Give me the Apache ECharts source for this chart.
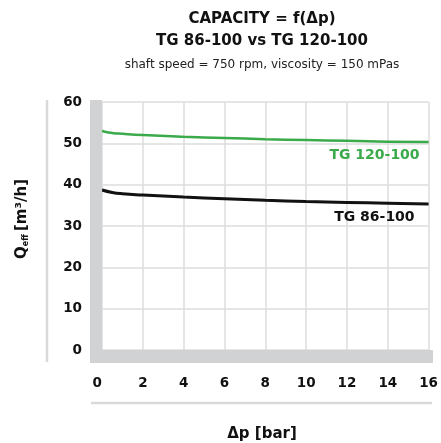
<!DOCTYPE html>
<html>
<head>
<meta charset="utf-8">
<script src="https://cdn.jsdelivr.net/npm/echarts@6/dist/echarts.min.js"></script>
<style>
  html, body { margin: 0; padding: 0; background: #fff; }
  #chart { width: 441px; height: 443px; }
</style>
</head>
<body>
<div id="chart"></div>
<script>
// values
const pressure = [0, 0.5, 1, 2, 4, 6, 8, 10, 12, 14, 16]
const tg120 = [53.0, 52.5, 52.3, 52.0, 51.6, 51.3, 51.0, 50.8, 50.6, 50.4, 50.3]
const tg86 = [38.7, 38.1, 37.8, 37.5, 37.0, 36.6, 36.2, 35.9, 35.7, 35.5, 35.3]
const xTicks = [0, 2, 4, 6, 8, 10, 12, 14, 16]
const yTicks = [0, 10, 20, 30, 40, 50, 60]

const FONT = 'DejaVu Sans'
const GREEN = '#3aaa4a'
const GREY = '#d1d2d4'

const pairs = (ys) => pressure.map((p, i) => [p, ys[i]])

const chart = echarts.init(document.getElementById('chart'), null, { renderer: 'canvas' })

const option = {
  animation: false,
  backgroundColor: '#fff',
  textStyle: { fontFamily: FONT },
  title: [
    {
      text: 'CAPACITY = f(Δp)\nTG 86-100 vs TG 120-100',
      left: 257,
      top: 3,
      textAlign: 'center',
      textStyle: { fontFamily: FONT, fontSize: 15, fontWeight: 'bold', color: '#111', lineHeight: 22 }
    },
    {
      text: 'shaft speed = 750 rpm, viscosity = 150 mPas',
      left: 257,
      top: 54,
      textAlign: 'center',
      textStyle: { fontFamily: FONT, fontSize: 12, fontWeight: 'normal', color: '#222' }
    }
  ],
  grid: { left: 102, right: 9, top: 102, bottom: 93 },
  xAxis: {
    type: 'value',
    min: xTicks[0],
    max: xTicks[xTicks.length - 1],
    interval: 2,
    axisLine: { show: false },
    axisTick: { show: false },
    axisLabel: {
      margin: 26,
      alignMinLabel: 'right',
      fontFamily: FONT, fontSize: 13.5, fontWeight: 'bold', color: '#111'
    },
    splitLine: { show: true, lineStyle: { color: '#dcdcdc', width: 1.5 } }
  },
  yAxis: {
    type: 'value',
    min: yTicks[0],
    max: yTicks[yTicks.length - 1],
    interval: 10,
    axisLine: { show: false },
    axisTick: { show: false },
    axisLabel: { margin: 20, fontFamily: FONT, fontSize: 13.5, fontWeight: 'bold', color: '#111' },
    splitLine: { show: true, lineStyle: { color: '#dcdcdc', width: 1.5 } }
  },
  graphic: [
    // grey L-shaped frame
    { type: 'rect', z: 10, shape: { x: 90, y: 100, width: 12, height: 263 }, style: { fill: GREY } },
    { type: 'rect', z: 10, shape: { x: 90, y: 350, width: 343, height: 13 }, style: { fill: GREY } },
    // separator lines
    { type: 'line', shape: { x1: 47, y1: 100, x2: 47, y2: 362 }, style: { stroke: '#d9d9d9', lineWidth: 2.5 } },
    { type: 'line', shape: { x1: 91, y1: 403, x2: 432, y2: 403 }, style: { stroke: '#d9d9d9', lineWidth: 2.5 } },
    // axis titles
    {
      type: 'text', x: 22, y: 219, rotation: Math.PI / 2,
      style: {
        text: '{q|Q}{s|eff} {q|[m³/h]}',
        align: 'center', verticalAlign: 'middle',
        rich: {
          q: { fontFamily: FONT, fontSize: 15, fontWeight: 'bold', fill: '#111' },
          s: { fontFamily: FONT, fontSize: 8, fontWeight: 'bold', fill: '#111', verticalAlign: 'bottom', padding: [7, 0, 0, 0] }
        }
      }
    },
    {
      type: 'text', x: 262, y: 434,
      style: {
        text: 'Δp [bar]', align: 'center', verticalAlign: 'middle',
        font: 'bold 15px "DejaVu Sans"', fill: '#111'
      }
    }
  ],
  series: [
    {
      name: 'TG 120-100',
      type: 'line',
      data: pairs(tg120),
      smooth: true,
      showSymbol: false,
      lineStyle: { color: GREEN, width: 2.5 },
      endLabel: {
        show: true, formatter: '{a}', align: 'right', offset: [-17, 13],
        fontFamily: FONT, fontSize: 14, fontWeight: 'bold', color: GREEN
      }
    },
    {
      name: 'TG 86-100',
      type: 'line',
      data: pairs(tg86),
      smooth: true,
      showSymbol: false,
      lineStyle: { color: '#111', width: 3 },
      endLabel: {
        show: true, formatter: '{a}', align: 'right', offset: [-22, 13],
        fontFamily: FONT, fontSize: 14, fontWeight: 'bold', color: '#111'
      }
    }
  ]
}

chart.setOption(option)
</script>
</body>
</html>
